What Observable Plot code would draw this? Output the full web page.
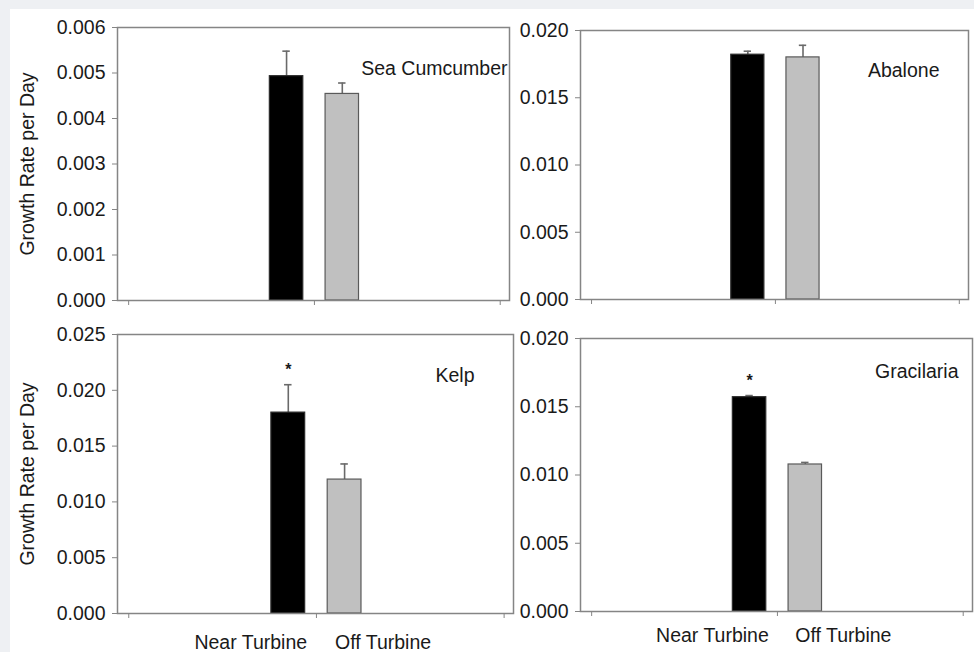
<!DOCTYPE html>
<html>
<head>
<meta charset="utf-8">
<script src="https://cdn.jsdelivr.net/npm/d3@7"></script>
<script src="https://cdn.jsdelivr.net/npm/@observablehq/plot@0.6"></script>
<style>
  html, body { margin: 0; padding: 0; }
  #page { position: relative; width: 974px; height: 652px; background: #eef0f3; overflow: hidden; }
  #inner { position: absolute; left: 10px; top: 9px; width: 964px; height: 643px; background: #ffffff; }
  .panel { position: absolute; }
</style>
</head>
<body>
<div id="page"><div id="inner"></div></div>
<script>
// ---- data ----
const species = ["Sea Cumcumber", "Abalone", "Kelp", "Gracilaria"];
const categories = ["Near Turbine", "Off Turbine"];
const nearMean = [0.00493, 0.0182, 0.0180, 0.0157];
const nearSE   = [0.00055, 0.00026, 0.0025, 0.00012];
const offMean  = [0.00454, 0.0180, 0.0120, 0.01077];
const offSE    = [0.00024, 0.0009, 0.0014, 0.00015];
const significant = [false, false, true, true];
const yMaxes = [0.006, 0.020, 0.025, 0.020];
const yStepTicks = [0.001, 0.005, 0.005, 0.005];

// ---- layout ----
const layout = [
  {left: 0,   top: 0,   width: 520, height: 310, ml: 117, mr: 11, mt: 27, mb: 10, yLabel: true,  cats: false, nameDx: -2,  nameDy: 34, catDy: 0},
  {left: 512, top: 0,   width: 462, height: 310, ml: 68,  mr: 6,  mt: 30, mb: 11, yLabel: false, cats: false, nameDx: -29, nameDy: 33, catDy: 0},
  {left: 0,   top: 310, width: 520, height: 342, ml: 117, mr: 7,  mt: 24, mb: 39, yLabel: true,  cats: true,  nameDx: -39, nameDy: 34, catDy: 29},
  {left: 512, top: 310, width: 462, height: 342, ml: 68,  mr: 2,  mt: 28, mb: 41, yLabel: false, cats: true,  nameDx: -14, nameDy: 26, catDy: 24}
];

const font = "'Liberation Sans', Arial, sans-serif";
const page = document.getElementById("page");

species.forEach((name, i) => {
  const L = layout[i];
  const bars = categories.map((c, j) => {
    const mean = j === 0 ? nearMean[i] : offMean[i];
    const se = j === 0 ? nearSE[i] : offSE[i];
    const xc = 1 + (j - 0.5) * 0.3;
    return {cat: c, xc, x1: xc - 0.09, x2: xc + 0.09, mean, top: mean + se, j};
  });
  const stars = significant[i] ? [bars[0]] : [];
  const catPos = [{label: categories[0], x: 0.65}, {label: categories[1], x: 1.355}];
  const ticks = d3.range(0, yMaxes[i] + 1e-9, yStepTicks[i]);

  const marks = [
    Plot.ruleX(bars, {x: "xc", y1: "mean", y2: "top", stroke: "#6a6a6a", strokeWidth: 1.6}),
    Plot.ruleY(bars, {x1: d => d.xc - 0.02, x2: d => d.xc + 0.02, y: "top", stroke: "#6a6a6a", strokeWidth: 1.6}),
    Plot.rectY(bars, {x1: "x1", x2: "x2", y1: 0, y2: "mean",
      fill: d => d.j === 0 ? "#000000" : "#c0c0c0", stroke: d => d.j === 0 ? "#2a2a2a" : "#5a5a5a", strokeWidth: 1.2}),
    Plot.frame({stroke: "#858585", strokeWidth: 1.5}),
    Plot.axisY({ticks, tickFormat: d3.format(".3f"), tickSize: 5, tickPadding: 7,
      stroke: "#858585", fill: "#1a1a1a",
      label: L.yLabel ? "Growth Rate per Day" : null, labelAnchor: "center", labelOffset: 97, labelArrow: "none"}),
    Plot.axisX({ticks: [0, 1, 2], tickSize: 5, tickFormat: () => "", stroke: "#858585", label: null}),
    Plot.text([name], {frameAnchor: "top-right", dx: L.nameDx, dy: L.nameDy, textAnchor: "end", fill: "#1a1a1a"}),
    Plot.text(stars, {x: "xc", y: "top", text: () => "*", dy: -15, fontSize: 16, fontWeight: "bold", fill: "#1a1a1a"})
  ];
  if (L.cats) {
    marks.push(Plot.text(catPos, {x: "x", y: () => 0, text: "label", dy: L.catDy, fill: "#1a1a1a"}));
  }

  const chart = Plot.plot({
    width: L.width, height: L.height,
    marginLeft: L.ml, marginRight: L.mr, marginTop: L.mt, marginBottom: L.mb,
    style: {background: "transparent", fontFamily: font, fontSize: "19.5px", color: "#1a1a1a", overflow: "visible"},
    x: {domain: [-0.06, 2.05], axis: null},
    y: {domain: [0, yMaxes[i]], axis: null},
    marks
  });
  chart.classList.add("panel");
  chart.style.position = "absolute";
  chart.style.left = L.left + "px";
  chart.style.top = L.top + "px";
  page.appendChild(chart);
});
</script>
</body>
</html>
